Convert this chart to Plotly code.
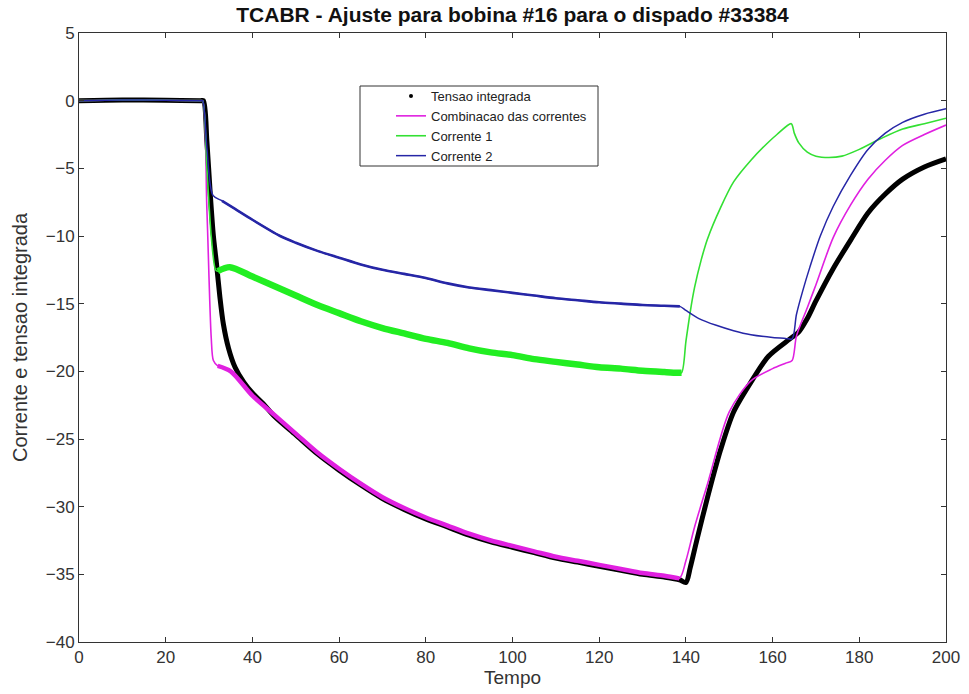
import plotly.graph_objects as go

# Tensao integrada (black)
t_ten = [0, 10, 20, 28, 28.7, 29.5, 30.3, 31, 31.7, 32.5, 33.3, 34.5, 36, 38, 40, 42.5, 45,
         50, 55, 60, 65, 70, 75, 80, 85, 90, 95, 100, 105, 110, 115, 120, 125, 130, 135,
         138.5, 140, 141, 142.5, 145, 148, 151, 155, 159, 164, 166, 168, 170, 174, 178,
         182, 186, 190, 195, 200]
v_ten = [0, 0.05, 0.03, 0, 0, -3, -7, -10, -12, -14.5, -16.5, -18.3, -19.7, -20.8, -21.6, -22.4, -23.3,
         -24.7, -26.1, -27.3, -28.4, -29.4, -30.2, -30.9, -31.5, -32.1, -32.6, -33.0, -33.4, -33.8, -34.1, -34.4, -34.7, -35.0, -35.2,
         -35.4, -35.6, -34.5, -32.5, -29.3, -25.8, -23.0, -20.8, -18.9, -17.6, -17.1, -16.1, -14.8, -12.4, -10.3,
         -8.3, -6.9, -5.8, -4.9, -4.3]

# Combinacao das correntes (magenta)
t_comb = [0, 10, 20, 28, 28.5, 29.5, 30.5, 31, 32, 35, 40, 45, 50, 55, 60, 65, 70, 75, 80, 85, 90,
          95, 100, 105, 110, 115, 120, 125, 130, 135, 138.5, 140, 142, 145, 150, 155, 160, 163,
          164.5, 165.5, 168, 170, 174, 178, 182, 186, 190, 195, 200]
v_comb = [0, 0.05, 0.03, 0, 0, -8, -17.5, -19.2, -19.6, -20.0, -21.8, -23.2, -24.6, -26.0, -27.2, -28.3, -29.3, -30.1, -30.8, -31.4, -32.0,
          -32.5, -32.9, -33.3, -33.7, -34.0, -34.3, -34.6, -34.9, -35.1, -35.3, -34.0, -31.5, -28.3, -23.0, -20.7, -19.8, -19.4,
          -19.2, -17.4, -15.3, -13.6, -10.1, -7.7, -5.8, -4.4, -3.3, -2.5, -1.8]

# Corrente 1 (green)
t_c1 = [0, 10, 20, 28, 28.5, 29.5, 30.5, 31.5, 32, 34.8, 40, 45, 50, 55, 60, 65, 70, 75, 80, 85, 90,
        95, 100, 105, 110, 115, 120, 125, 130, 135, 138, 139, 140, 141, 142, 143.5, 145, 148, 151,
        155, 158.6, 161, 164.3, 165, 166, 168, 170, 173, 176, 180, 185, 190, 195, 200]
v_c1 = [0, 0.05, 0.03, 0, 0, -5, -10, -12.5, -12.6, -12.3, -13.0, -13.7, -14.4, -15.1, -15.7, -16.3, -16.8, -17.2, -17.6, -17.9, -18.3,
        -18.6, -18.8, -19.1, -19.3, -19.5, -19.7, -19.8, -19.95, -20.05, -20.1, -20.1, -17.8, -15.6, -13.8, -11.8, -10.2, -7.9, -6.0,
        -4.4, -3.2, -2.5, -1.7, -2.4, -3.1, -3.8, -4.1, -4.2, -4.1, -3.6, -2.8, -2.1, -1.7, -1.3]

# Corrente 2 (blue)
t_c2 = [0, 10, 20, 28, 28.5, 29.5, 30.9, 33, 36, 40, 46.4, 50, 55, 60, 65, 70, 75, 80, 85, 90, 95,
        100, 105, 110, 115, 120, 125, 130, 135, 138.6, 140, 143, 147, 151, 155, 160, 163, 164.5,
        165.5, 167, 168.6, 171, 174, 178, 182, 186, 190, 195, 200]
v_c2 = [0, 0.05, 0.03, 0, 0, -3.5, -7.0, -7.4, -8.0, -8.8, -10.0, -10.5, -11.1, -11.6, -12.1, -12.5, -12.8, -13.1, -13.5, -13.8, -14.0,
        -14.2, -14.4, -14.6, -14.75, -14.9, -15.0, -15.1, -15.15, -15.2, -15.5, -16.1, -16.6, -17.0, -17.3, -17.5, -17.57, -17.6,
        -15.8, -14.0, -12.3, -10.0, -7.8, -5.5, -3.6, -2.4, -1.6, -1.0, -0.6]

x_ticks = list(range(0, 201, 20))
y_ticks = list(range(-40, 6, 5))

C_TEN = "#000000"
C_COMB = "#e020e0"
C_C1 = "#33e033"
C_C2 = "#2626a6"
FONT = "Liberation Sans, Arial, sans-serif"


def segment(ts, vs, lo, hi):
    pairs = [(t, v) for t, v in zip(ts, vs) if lo <= t <= hi]
    return [p[0] for p in pairs], [p[1] for p in pairs]


def line(color, width):
    return dict(color=color, width=width, shape="spline", smoothing=0.8)


fig = go.Figure()

# integrated voltage: dense dots rendered as a thick trace, legend shows a dot
fig.add_trace(go.Scatter(x=t_ten, y=v_ten, mode="lines", line=line(C_TEN, 5),
                         showlegend=False, legendgroup="ten", hoverinfo="skip"))
fig.add_trace(go.Scatter(x=[None], y=[None], mode="markers", name="Tensao integrada",
                         marker=dict(color=C_TEN, size=4), legendgroup="ten"))

# combined currents, with the rippled stretch drawn as a wider band
fig.add_trace(go.Scatter(x=t_comb, y=v_comb, mode="lines", name="Combinacao das correntes",
                         line=line(C_COMB, 1.6), legendgroup="comb"))
xs, ys = segment(t_comb, v_comb, 32, 138.5)
fig.add_trace(go.Scatter(x=xs, y=ys, mode="lines", line=line(C_COMB, 4.5),
                         showlegend=False, legendgroup="comb", hoverinfo="skip"))

# current 1
fig.add_trace(go.Scatter(x=t_c1, y=v_c1, mode="lines", name="Corrente 1",
                         line=line(C_C1, 1.6), legendgroup="c1"))
xs, ys = segment(t_c1, v_c1, 32, 139)
fig.add_trace(go.Scatter(x=xs, y=ys, mode="lines", line=line("#22ee22", 6.5),
                         showlegend=False, legendgroup="c1", hoverinfo="skip"))

# current 2
fig.add_trace(go.Scatter(x=t_c2, y=v_c2, mode="lines", name="Corrente 2",
                         line=line(C_C2, 1.5), legendgroup="c2"))
xs, ys = segment(t_c2, v_c2, 31, 139)
fig.add_trace(go.Scatter(x=xs, y=ys, mode="lines", line=line(C_C2, 2.6),
                         showlegend=False, legendgroup="c2", hoverinfo="skip"))

axis_common = dict(
    showgrid=False, zeroline=False, showline=True, mirror="ticks", automargin=False,
    linecolor="#333333", linewidth=1, ticks="inside", ticklen=5, tickcolor="#333333",
    tickfont=dict(family=FONT, size=17, color="#333333"),
)

fig.update_layout(
    width=969, height=694,
    margin=dict(l=79, r=23, t=33, b=52),
    paper_bgcolor="white", plot_bgcolor="white",
    title=dict(text="<b>TCABR - Ajuste para bobina #16 para o dispado #33384</b>",
               x=(79 + 946) / 2 / 969, xanchor="center", y=1 - 15 / 694, yanchor="middle",
               font=dict(family=FONT, size=21, color="#111111")),
    xaxis=dict(range=[0, 200], tickvals=x_ticks,
               title=dict(text="Tempo", standoff=4,
                          font=dict(family=FONT, size=19, color="#333333")),
               **axis_common),
    yaxis=dict(range=[-40, 5], tickvals=y_ticks,
               title=dict(text="Corrente e tensao integrada", standoff=12,
                          font=dict(family=FONT, size=20, color="#333333")),
               **axis_common),
    legend=dict(x=(391 - 79) / 867, y=(642 - 81) / 609, xanchor="left", yanchor="top",
                bgcolor="rgba(0,0,0,0)", borderwidth=0,
                font=dict(family=FONT, size=13, color="#222222"),
                tracegroupgap=0, itemclick=False),
    shapes=[dict(type="rect", xref="paper", yref="paper",
                 x0=(360 - 79) / 867, x1=(598 - 79) / 867,
                 y0=(642 - 166) / 609, y1=(642 - 86) / 609,
                 line=dict(color="#333333", width=1), fillcolor="white", layer="below")],
    showlegend=True,
)

fig.write_html("out.html")
